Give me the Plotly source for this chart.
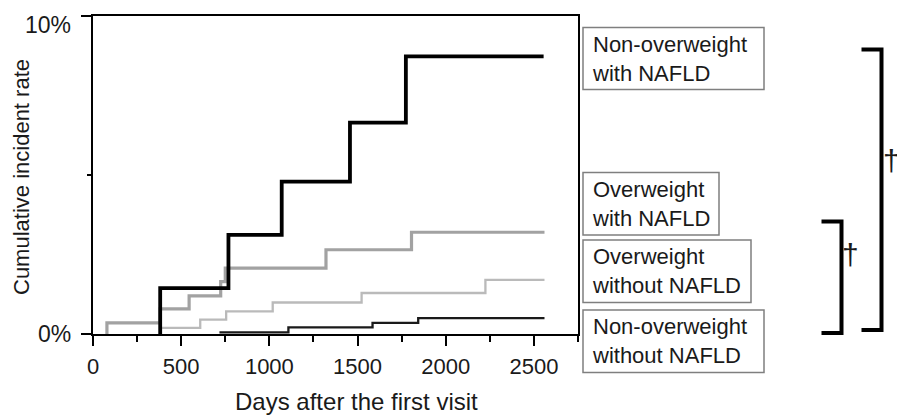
import plotly.graph_objects as go

# ---------------- data ----------------
nonow_nafld_days = [381, 381, 768, 1070, 1457, 1774, 2555]
nonow_nafld_rate = [0, 1.44, 3.12, 4.79, 6.65, 8.73, 8.73]

ow_nafld_days = [79, 79, 381, 545, 724, 750, 1321, 1806, 2560]
ow_nafld_rate = [0, 0.35, 0.79, 1.20, 1.65, 2.07, 2.65, 3.20, 3.20]

ow_nonafld_days = [385, 385, 608, 755, 1019, 1523, 2225, 2560]
ow_nonafld_rate = [0, 0.19, 0.45, 0.71, 0.99, 1.29, 1.70, 1.70]

nonow_nonafld_days = [717, 1108, 1585, 1844, 2560]
nonow_nonafld_rate = [0.05, 0.21, 0.35, 0.50, 0.50]

group_labels = [
    "Non-overweight<br>with NAFLD",
    "Overweight<br>with NAFLD",
    "Overweight<br>without NAFLD",
    "Non-overweight<br>without NAFLD",
]
x_tick_vals = [0, 500, 1000, 1500, 2000, 2500]
x_tick_text = ["0", "500", "1000", "1500", "2000", "2500"]
y_tick_vals = [0, 10]
y_tick_text = ["0%", "10%"]
x_title = "Days after the first visit"
y_title = "Cumulative incident rate"
dagger = "\u2020"

# ---------------- layout geometry (pixels, page coordinates) ----------------
PAGE_W, PAGE_H = 905, 416
OFF = 8                      # default body margin of the html page
FW, FH = PAGE_W - OFF, PAGE_H - OFF
L, T, W, H = 93, 16, 485, 318   # plot area in page pixels
FONT = "Liberation Sans, Arial, Helvetica, sans-serif"
TXT = "#1a1a1a"


def px(xp):
    return (xp - L) / W


def py(yp):
    return (T + H - yp) / H


fig = go.Figure()

fig.add_trace(go.Scatter(x=ow_nonafld_days, y=ow_nonafld_rate, mode="lines",
                         line=dict(shape="hv", color="#bababa", width=2.3)))
fig.add_trace(go.Scatter(x=ow_nafld_days, y=ow_nafld_rate, mode="lines",
                         line=dict(shape="hv", color="#a2a2a2", width=3.2)))
fig.add_trace(go.Scatter(x=nonow_nonafld_days, y=nonow_nonafld_rate, mode="lines",
                         line=dict(shape="hv", color="#1a1a1a", width=2.3)))
fig.add_trace(go.Scatter(x=nonow_nafld_days, y=nonow_nafld_rate, mode="lines",
                         line=dict(shape="hv", color="#000000", width=3.8)))

shapes = []
annotations = []

# y tick labels (the top one sits just below its tick, as in the reference)
for v, t in zip(y_tick_vals, y_tick_text):
    annotations.append(dict(xref="paper", yref="y", x=px(73), y=v, text=t,
                            showarrow=False, xanchor="right", yanchor="middle",
                            yshift=-9 if v == max(y_tick_vals) else 0,
                            font=dict(family=FONT, size=23, color=TXT)))

# label boxes
boxes = [  # left, top, right, bottom (page px)
    (583, 27.5, 764, 89.5),
    (583, 172.5, 719, 235),
    (583, 240, 751, 302.5),
    (583, 310, 764, 372.5),
]
for (x0, y0, x1, y1), lab in zip(boxes, group_labels):
    shapes.append(dict(type="rect", xref="paper", yref="paper",
                       x0=px(x0), x1=px(x1), y0=py(y1), y1=py(y0),
                       line=dict(color="#7f7f7f", width=1.5), fillcolor="white"))
    annotations.append(dict(xref="paper", yref="paper", x=px(x0 + 7), y=py((y0 + y1) / 2),
                            xanchor="left", yanchor="middle", align="left",
                            text=lab, showarrow=False,
                            font=dict(family=FONT, size=22, color=TXT)))

# significance brackets
for (xa, xv, ya, yb) in [(861.5, 881.5, 49.5, 330), (821.5, 841.5, 221.5, 333)]:
    path = "M {a},{t} L {v},{t} L {v},{b} L {a},{b}".format(
        a=px(xa), v=px(xv), t=py(ya), b=py(yb))
    shapes.append(dict(type="path", xref="paper", yref="paper", path=path,
                       line=dict(color="black", width=4)))
annotations.append(dict(xref="paper", yref="paper", x=px(891), y=py(160), text=dagger,
                        showarrow=False, xanchor="center", yanchor="middle",
                        font=dict(family=FONT, size=30, color=TXT)))
annotations.append(dict(xref="paper", yref="paper", x=px(850), y=py(254), text=dagger,
                        showarrow=False, xanchor="center", yanchor="middle",
                        font=dict(family=FONT, size=30, color=TXT)))

# axis titles
annotations.append(dict(xref="paper", yref="paper", x=px(356), y=py(401), text=x_title,
                        showarrow=False, xanchor="center", yanchor="middle",
                        font=dict(family=FONT, size=24, color=TXT)))
annotations.append(dict(xref="paper", yref="paper", x=px(21), y=py(177), text=y_title,
                        showarrow=False, xanchor="center", yanchor="middle", textangle=-90,
                        font=dict(family=FONT, size=22, color=TXT)))

fig.update_layout(
    width=FW, height=FH,
    margin=dict(l=L - OFF, r=FW - (L - OFF) - W, t=T - OFF, b=FH - (T - OFF) - H,
                autoexpand=False),
    paper_bgcolor="white", plot_bgcolor="white",
    showlegend=False,
    font=dict(family=FONT, size=22, color=TXT),
    shapes=shapes, annotations=annotations,
    xaxis=dict(range=[0, 2750], tickvals=x_tick_vals, ticktext=x_tick_text,
               automargin=False, ticklabeloverflow="allow",
               showgrid=False, zeroline=False, showline=True, mirror=True,
               linecolor="black", linewidth=1.5,
               ticks="outside", ticklen=10, tickwidth=1.5, tickcolor="black",
               ticklabelstandoff=2,
               minor=dict(dtick=250, tick0=0, ticks="outside", ticklen=6,
                          tickwidth=1.5, tickcolor="black", showgrid=False),
               tickfont=dict(family=FONT, size=22, color=TXT)),
    yaxis=dict(range=[0, 10], tickvals=y_tick_vals, showticklabels=False,
               automargin=False,
               showgrid=False, zeroline=False, showline=True, mirror=True,
               linecolor="black", linewidth=1.5,
               ticks="outside", ticklen=10, tickwidth=1.5, tickcolor="black",
               minor=dict(tickvals=[5], ticks="outside", ticklen=4,
                          tickwidth=1.5, tickcolor="black", showgrid=False)),
)

fig.write_html("out.html")
